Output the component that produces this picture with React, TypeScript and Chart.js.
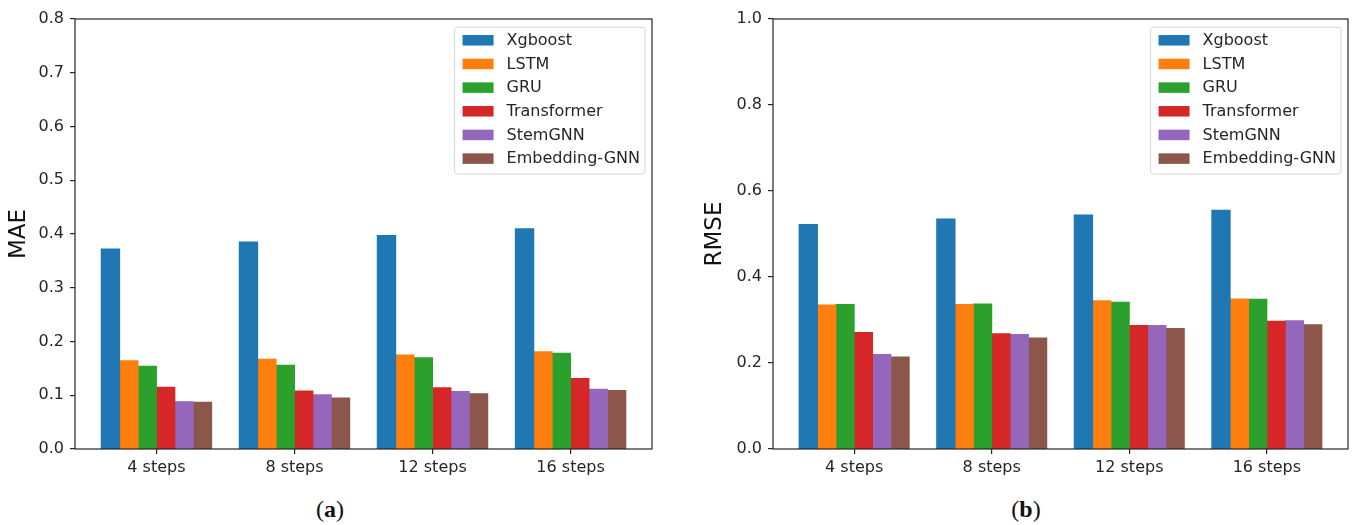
import React, { useEffect, useRef } from 'react';
import { Chart, registerables } from 'chart.js';

Chart.register(...registerables);

// ---------- data ----------
const categories = ['4 steps', '8 steps', '12 steps', '16 steps'];
const models = ['Xgboost', 'LSTM', 'GRU', 'Transformer', 'StemGNN', 'Embedding-GNN'];
const colors = ['#1f77b4', '#ff7f0e', '#2ca02c', '#d62728', '#9467bd', '#8c564b'];

const maeXgboost = [0.372, 0.385, 0.397, 0.41];
const maeLSTM = [0.164, 0.167, 0.175, 0.181];
const maeGRU = [0.154, 0.156, 0.17, 0.178];
const maeTransformer = [0.115, 0.108, 0.114, 0.131];
const maeStemGNN = [0.088, 0.101, 0.107, 0.111];
const maeEmbeddingGNN = [0.087, 0.095, 0.103, 0.109];

const rmseXgboost = [0.522, 0.535, 0.544, 0.555];
const rmseLSTM = [0.335, 0.336, 0.345, 0.349];
const rmseGRU = [0.336, 0.337, 0.341, 0.348];
const rmseTransformer = [0.271, 0.268, 0.287, 0.297];
const rmseStemGNN = [0.22, 0.266, 0.287, 0.298];
const rmseEmbeddingGNN = [0.214, 0.258, 0.28, 0.289];

const maeSeries = [maeXgboost, maeLSTM, maeGRU, maeTransformer, maeStemGNN, maeEmbeddingGNN];
const rmseSeries = [rmseXgboost, rmseLSTM, rmseGRU, rmseTransformer, rmseStemGNN, rmseEmbeddingGNN];

const maeTickValues = [0, 0.1, 0.2, 0.3, 0.4, 0.5, 0.6, 0.7, 0.8];
const rmseTickValues = [0, 0.2, 0.4, 0.6, 0.8, 1.0];

// ---------- styling ----------
const FONT = 'DejaVu Sans';
const AXIS_COLOR = '#262626';
const TICK_FONT_SIZE = 16;
const LEGEND_FONT_SIZE = 16;

const framePlugin = {
  id: 'frame',
  afterDatasetsDraw(chart: any) {
    const { ctx, chartArea } = chart;
    ctx.save();
    ctx.strokeStyle = AXIS_COLOR;
    ctx.lineWidth = 1.2;
    ctx.strokeRect(chartArea.left, chartArea.top, chartArea.right - chartArea.left, chartArea.bottom - chartArea.top);
    ctx.restore();
  },
};

const boxLegendPlugin = {
  id: 'boxLegend',
  afterDraw(chart: any) {
    const { ctx, chartArea } = chart;
    const items = chart.data.datasets.map((ds: any) => ({ label: ds.label, color: ds.backgroundColor }));
    ctx.save();
    ctx.font = `${LEGEND_FONT_SIZE}px "${FONT}"`;
    const textW = Math.max(...items.map((it: any) => ctx.measureText(it.label).width));
    const padL = 8;
    const handleW = 31;
    const handleH = 10.5;
    const gap = 13;
    const padR = 5;
    const rowH = 23.66;
    const boxW = padL + handleW + gap + textW + padR;
    const boxH = 13 + rowH * (items.length - 1) + 15.5;
    const x = chartArea.right - 7 - boxW;
    const y = chartArea.top + 8.3;
    const r = 3;
    ctx.beginPath();
    ctx.moveTo(x + r, y);
    ctx.lineTo(x + boxW - r, y);
    ctx.quadraticCurveTo(x + boxW, y, x + boxW, y + r);
    ctx.lineTo(x + boxW, y + boxH - r);
    ctx.quadraticCurveTo(x + boxW, y + boxH, x + boxW - r, y + boxH);
    ctx.lineTo(x + r, y + boxH);
    ctx.quadraticCurveTo(x, y + boxH, x, y + boxH - r);
    ctx.lineTo(x, y + r);
    ctx.quadraticCurveTo(x, y, x + r, y);
    ctx.closePath();
    ctx.fillStyle = 'rgba(255,255,255,0.8)';
    ctx.fill();
    ctx.strokeStyle = '#d6d6d6';
    ctx.lineWidth = 1;
    ctx.stroke();
    ctx.textBaseline = 'middle';
    ctx.textAlign = 'left';
    items.forEach((it: any, i: number) => {
      const cy = y + 13 + i * rowH;
      ctx.fillStyle = it.color;
      ctx.fillRect(x + padL, cy - handleH / 2, handleW, handleH);
      ctx.fillStyle = AXIS_COLOR;
      ctx.fillText(it.label, x + padL + handleW + gap, cy + 0.5);
    });
    ctx.restore();
  },
};

type PanelProps = {
  series: number[][];
  tickValues: number[];
  yTitle: string;
  width: number;
  height: number;
  yAxisWidth: number;
  xAxisHeight: number;
  padTop: number;
  padRight: number;
  titlePad: number;
};

function Panel(props: PanelProps) {
  const ref = useRef<HTMLCanvasElement | null>(null);
  useEffect(() => {
    if (!ref.current) return;
    const yMax = props.tickValues[props.tickValues.length - 1];
    const chart = new Chart(ref.current, {
      type: 'bar',
      data: {
        datasets: props.series.map((vals, k) => ({
          label: models[k],
          data: vals.map((v, i) => ({ x: i, y: v })),
          backgroundColor: colors[k],
          borderWidth: 0,
          inflateAmount: 0.5,
          categoryPercentage: 0.8,
          barPercentage: 1.0,
        })),
      },
      options: {
        responsive: false,
        animation: false,
        events: [],
        layout: { padding: { left: 0, top: props.padTop, right: props.padRight, bottom: 0 } },
        plugins: { legend: { display: false }, tooltip: { enabled: false }, title: { display: false } },
        scales: {
          x: {
            type: 'linear',
            offset: false,
            min: -0.59,
            max: categories.length - 1 + 0.59,
            afterBuildTicks: (scale: any) => {
              scale.ticks = categories.map((_, i) => ({ value: i }));
            },
            afterFit: (scale: any) => {
              scale.height = props.xAxisHeight;
            },
            ticks: {
              autoSkip: false,
              maxRotation: 0,
              padding: 4,
              color: AXIS_COLOR,
              font: { family: FONT, size: TICK_FONT_SIZE },
              callback: (v: any) => categories[Math.round(Number(v))] ?? '',
            },
            grid: {
              offset: false,
              drawOnChartArea: false,
              drawTicks: true,
              tickLength: 5,
              color: AXIS_COLOR,
              lineWidth: 1.2,
            },
            border: { display: false },
          },
          y: {
            type: 'linear',
            min: 0,
            max: yMax,
            afterBuildTicks: (scale: any) => {
              scale.ticks = props.tickValues.map((v) => ({ value: v }));
            },
            afterFit: (scale: any) => {
              scale.width = props.yAxisWidth;
            },
            ticks: {
              padding: 6,
              color: AXIS_COLOR,
              font: { family: FONT, size: TICK_FONT_SIZE },
              callback: (v: any) => Number(v).toFixed(1),
            },
            grid: {
              drawOnChartArea: false,
              drawTicks: true,
              tickLength: 5,
              color: AXIS_COLOR,
              lineWidth: 1.2,
            },
            border: { display: false },
            title: {
              display: true,
              text: props.yTitle,
              color: '#111',
              font: { family: FONT, size: 23 },
              padding: { top: props.titlePad, bottom: 0 },
            },
          },
        },
      },
      plugins: [framePlugin, boxLegendPlugin],
    } as any);
    return () => chart.destroy();
  }, []);
  return (
    <canvas
      ref={ref}
      width={props.width}
      height={props.height}
      style={{ width: props.width, height: props.height, display: 'block' }}
    />
  );
}

const captionStyle: React.CSSProperties = {
  position: 'absolute',
  top: 494,
  fontFamily: '"Liberation Serif", "DejaVu Serif", serif',
  fontSize: 24,
  color: '#111',
  lineHeight: '30px',
  transform: 'translateX(-50%)',
  whiteSpace: 'nowrap',
};

export default function App() {
  return (
    <div style={{ position: 'absolute', left: 0, top: 0, width: 1357, height: 525, background: '#fff', overflow: 'hidden' }}>
      <div style={{ position: 'absolute', left: 0, top: 0 }}>
        <Panel
          series={maeSeries}
          tickValues={maeTickValues}
          yTitle="MAE"
          width={670}
          height={490}
          yAxisWidth={75}
          xAxisHeight={41}
          padTop={19}
          padRight={18}
          titlePad={5}
        />
      </div>
      <div style={{ position: 'absolute', left: 690, top: 0 }}>
        <Panel
          series={rmseSeries}
          tickValues={rmseTickValues}
          yTitle="RMSE"
          width={667}
          height={490}
          yAxisWidth={83}
          xAxisHeight={41}
          padTop={19}
          padRight={9}
          titlePad={11}
        />
      </div>
      <div style={{ ...captionStyle, left: 330 }}>
        (<b>a</b>)
      </div>
      <div style={{ ...captionStyle, left: 1026 }}>
        (<b>b</b>)
      </div>
    </div>
  );
}
